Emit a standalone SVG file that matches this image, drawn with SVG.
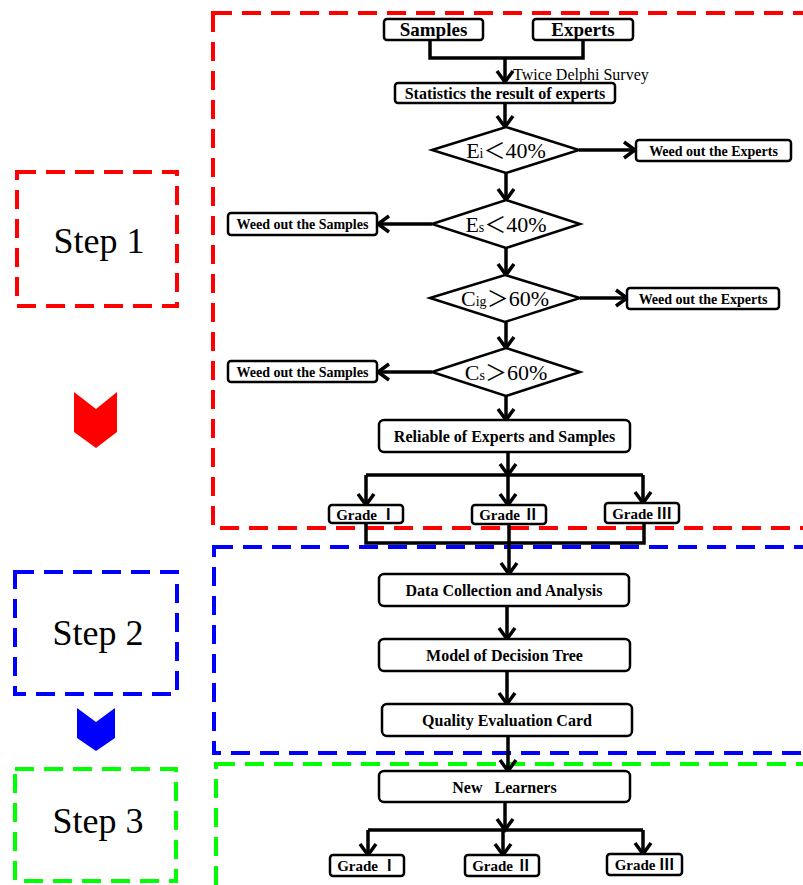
<svg xmlns="http://www.w3.org/2000/svg" width="803" height="885" viewBox="0 0 803 885">
<style>
.box{fill:#fff;stroke:#000;stroke-width:2.5}
.dia{fill:#fff;stroke:#000;stroke-width:2.5}
.b{font-family:"Liberation Serif","Noto Sans CJK SC",serif;font-weight:bold;text-anchor:middle;fill:#000}
.r{font-family:"Liberation Serif","Noto Sans CJK SC",serif;fill:#000}
.dt{font-family:"Liberation Serif","Noto Sans CJK SC",serif;font-size:22px;text-anchor:middle;fill:#000}
.step{font-family:"Liberation Serif",serif;font-size:36px;text-anchor:middle;fill:#000}
.dash{fill:none;stroke-width:4;stroke-dasharray:19 10}
.conn path{fill:none;stroke:#000;stroke-width:3.5}
</style>
<defs>
<marker id="ah" viewBox="-3 -3 18 22" markerWidth="18" markerHeight="22" refX="11" refY="8" orient="auto" markerUnits="userSpaceOnUse">
<path d="M0,0 L11,8 L0,16" fill="none" stroke="#000" stroke-width="3.5"/>
</marker>
</defs>
<rect width="803" height="885" fill="#fff"/>

<!-- section frames -->
<g id="frames">
<rect class="dash" x="213" y="13" width="640" height="515" stroke="#ff0000"/>
<rect class="dash" x="214" y="547" width="640" height="206" stroke="#0000ff"/>
<rect class="dash" x="216" y="764" width="640" height="160" stroke="#00ff00"/>
</g>

<g id="step1">
<rect class="dash" x="17" y="172" width="160" height="134" stroke="#ff0000"/>
<text class="step" x="99" y="253">Step 1</text>
</g>
<g id="chevron1"><polygon points="74,392 96,409 117,392 117,432 96,448 74,432" fill="#ff0000"/></g>
<g id="step2">
<rect class="dash" x="15" y="572" width="162" height="122" stroke="#0000ff"/>
<text class="step" x="98" y="645">Step 2</text>
</g>
<g id="chevron2"><polygon points="77,708 96,722 115,708 115,738 96,751 77,738" fill="#0000ff"/></g>
<g id="step3">
<rect class="dash" x="15" y="769" width="161" height="112" stroke="#00ff00"/>
<text class="step" x="98" y="833">Step 3</text>
</g>

<g class="conn" id="connectors">
<path d="M430,40 V58 H583 V40"/>
<path d="M505,58 V82" marker-end="url(#ah)"/>
<path d="M505,103 V127" marker-end="url(#ah)"/>
<path d="M579,150 H635" marker-end="url(#ah)"/>
<path d="M506,173 V200" marker-end="url(#ah)"/>
<path d="M432,224 H378" marker-end="url(#ah)"/>
<path d="M506,248 V275" marker-end="url(#ah)"/>
<path d="M580,298 H627" marker-end="url(#ah)"/>
<path d="M506,322 V348" marker-end="url(#ah)"/>
<path d="M432,372 H378" marker-end="url(#ah)"/>
<path d="M506,396 V420" marker-end="url(#ah)"/>
<path d="M508,452 V475" marker-end="url(#ah)"/>
<path d="M366,475 H643"/>
<path d="M366,475 V505" marker-end="url(#ah)"/>
<path d="M508,475 V505" marker-end="url(#ah)"/>
<path d="M643,475 V503" marker-end="url(#ah)"/>
<path d="M366,523 V543 H644 V523"/>
<path d="M509,524 V543"/>
<path d="M509,543 V574" marker-end="url(#ah)"/>
<path d="M507,606 V639" marker-end="url(#ah)"/>
<path d="M507,671 V704" marker-end="url(#ah)"/>
<path d="M508,736 V771" marker-end="url(#ah)"/>
<path d="M505,802 V830" marker-end="url(#ah)"/>
<path d="M368,830 H643"/>
<path d="M368,830 V855" marker-end="url(#ah)"/>
<path d="M503,830 V855" marker-end="url(#ah)"/>
<path d="M643,830 V854" marker-end="url(#ah)"/>
</g>
<text class="r" x="513" y="80" font-size="16">Twice Delphi Survey</text>

<g id="samples"><rect class="box" x="384" y="19" width="99" height="21" rx="3"/><text class="b" x="433.5" y="36" font-size="19">Samples</text></g>
<g id="experts"><rect class="box" x="533" y="19" width="100" height="21" rx="3"/><text class="b" x="583" y="36" font-size="19">Experts</text></g>
<g id="statistics"><rect class="box" x="395" y="83" width="220" height="20" rx="3"/><text class="b" x="505" y="99" font-size="16">Statistics the result of experts</text></g>

<g id="d-ei"><polygon class="dia" points="432,150 506,127 579,150 506,173"/>
<text class="dt" x="506" y="158">E<tspan font-size="14">i</tspan>＜40%</text></g>
<g id="weed-e1"><rect class="box" x="636" y="140" width="155" height="21" rx="3"/><text class="b" x="713.5" y="155.5" font-size="14">Weed out the Experts</text></g>

<g id="d-es"><polygon class="dia" points="432,224 506,200 580,224 506,248"/>
<text class="dt" x="506" y="232">E<tspan font-size="14">s</tspan>＜40%</text></g>
<g id="weed-s1"><rect class="box" x="228" y="213" width="149" height="22" rx="3"/><text class="b" x="302.5" y="229" font-size="14">Weed out the Samples</text></g>

<g id="d-cig"><polygon class="dia" points="430,298 505,275 580,298 505,322"/>
<text class="dt" x="505" y="306">C<tspan font-size="14">ig</tspan>＞60%</text></g>
<g id="weed-e2"><rect class="box" x="627" y="288" width="152" height="21" rx="3"/><text class="b" x="703" y="303.5" font-size="14">Weed out the Experts</text></g>

<g id="d-cs"><polygon class="dia" points="432,372 506,348 580,372 506,396"/>
<text class="dt" x="506" y="380">C<tspan font-size="14">s</tspan>＞60%</text></g>
<g id="weed-s2"><rect class="box" x="228" y="361" width="149" height="21" rx="3"/><text class="b" x="302.5" y="376.5" font-size="14">Weed out the Samples</text></g>

<g id="reliable"><rect class="box" x="379" y="420" width="251" height="32" rx="5"/><text class="b" x="504.5" y="442" font-size="16">Reliable of Experts and Samples</text></g>

<g id="g1a"><rect class="box" x="329" y="505" width="74" height="18" rx="3"/><text class="b" x="366" y="519.5" font-size="15">Grade Ⅰ</text></g>
<g id="g2a"><rect class="box" x="472" y="505" width="74" height="19" rx="3"/><text class="b" x="509" y="520" font-size="15">Grade Ⅱ</text></g>
<g id="g3a"><rect class="box" x="605" y="503" width="74" height="20" rx="3"/><text class="b" x="642" y="518.5" font-size="15">Grade Ⅲ</text></g>

<g id="data"><rect class="box" x="379" y="574" width="250" height="32" rx="5"/><text class="b" x="504" y="596" font-size="16">Data Collection and Analysis</text></g>
<g id="model"><rect class="box" x="379" y="639" width="251" height="32" rx="5"/><text class="b" x="504.5" y="661" font-size="16">Model of Decision Tree</text></g>
<g id="quality"><rect class="box" x="382" y="704" width="250" height="32" rx="5"/><text class="b" x="507" y="726" font-size="16">Quality Evaluation Card</text></g>

<g id="learners"><rect class="box" x="379" y="771" width="251" height="31" rx="5"/><text class="b" x="504.5" y="792.5" font-size="16" style="white-space:pre">New   Learners</text></g>

<g id="g1b"><rect class="box" x="330" y="855" width="74" height="21" rx="3"/><text class="b" x="367" y="871" font-size="15">Grade Ⅰ</text></g>
<g id="g2b"><rect class="box" x="465" y="855" width="74" height="21" rx="3"/><text class="b" x="502" y="871" font-size="15">Grade Ⅱ</text></g>
<g id="g3b"><rect class="box" x="607" y="854" width="75" height="21" rx="3"/><text class="b" x="644.5" y="870" font-size="15">Grade Ⅲ</text></g>
</svg>
